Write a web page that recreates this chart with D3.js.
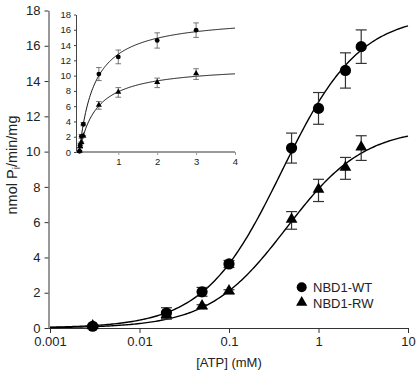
<!DOCTYPE html>
<html><head><meta charset="utf-8">
<script src="https://cdn.jsdelivr.net/npm/d3@7"></script>
<style>body{margin:0;background:#fff}svg{display:block;font-family:"Liberation Sans",Arial,sans-serif}</style>
</head><body>
<svg id="c" width="418" height="374"></svg>
<script>
// ---- data ----
const atp = [0.003, 0.02, 0.05, 0.1, 0.5, 1, 2, 3];
const wtRate = [0.1, 0.85, 2.05, 3.63, 10.2, 12.45, 14.6, 15.95];
const wtErr = [0.08, 0.3, 0.25, 0.2, 0.85, 0.9, 1.0, 0.95];
const rwRate = [0.07, 0.7, 1.2, 2.05, 6.1, 7.8, 9.05, 10.2];
const rwErr = [0.05, 0.2, 0.12, 0.12, 0.5, 0.63, 0.62, 0.7];
const seriesNames = ["NBD1-WT", "NBD1-RW"];
const fitVmax = [17.8, 11.36];
const fitKm = [0.39, 0.44];
const xTicks = [0.001, 0.01, 0.1, 1, 10];
const xTickLabels = ["0.001", "0.01", "0.1", "1", "10"];
const yTicks = [0, 2, 4, 6, 8, 10, 12, 14, 16, 18];
const insetXTicks = [1, 2, 3, 4];
const insetXTickLabels = ["1", "2", "3", "4"];

const svg = d3.select("#c");
const mm = (v, k) => x => v * x / (k + x);
const series = [
  {name: seriesNames[0], y: wtRate, e: wtErr, f: mm(fitVmax[0], fitKm[0]), shape: "circle"},
  {name: seriesNames[1], y: rwRate, e: rwErr, f: mm(fitVmax[1], fitKm[1]), shape: "triangle"}
];

// ---- main chart ----
const x = d3.scaleLog().domain([0.001, 10]).range([50, 408]);
const y = d3.scaleLinear().domain([0, 18]).range([328, 10.5]);
const axisCol = "#333";

const gx = svg.append("g").attr("transform", "translate(0,328)")
  .call(d3.axisBottom(x).tickValues(xTicks).tickFormat((d, i) => xTickLabels[i]).tickSize(5).tickSizeOuter(0).tickPadding(4));
gx.select(".domain").attr("d", "M48.5,0.5H408").attr("stroke", axisCol);
const gy = svg.append("g").attr("transform", "translate(48.5,0)")
  .call(d3.axisLeft(y).tickValues(yTicks).tickSize(4).tickSizeOuter(0).tickPadding(4));
[gx, gy].forEach(g => {
  g.selectAll("text").attr("font-size", 13).attr("fill", "#222").attr("font-family", "Liberation Sans, Arial, sans-serif");
  g.selectAll("line,.domain").attr("stroke", axisCol);
});

svg.append("text").attr("x", 229).attr("y", 367).attr("text-anchor", "middle")
  .attr("font-size", 13).attr("fill", "#222").text("[ATP] (mM)");
const yl = svg.append("text").attr("transform", "translate(17,165) rotate(-90)")
  .attr("text-anchor", "middle").attr("font-size", 14.5).attr("fill", "#222");
yl.append("tspan").text("nmol P");
yl.append("tspan").attr("font-size", 10).attr("dy", 3).text("i");
yl.append("tspan").attr("dy", -3).text("/min/mg");

function drawSeries(g, xs, ys, xvals, opt) {
  series.forEach(s => {
    const line = d3.line().x(d => xs(d[0])).y(d => ys(d[1]));
    g.append("path").attr("d", line(opt.samples.map(v => [v, s.f(v)])))
      .attr("fill", "none").attr("stroke", "#000").attr("stroke-width", opt.lw);
  });
  series.forEach(s => {
    xvals.forEach((v, i) => {
      const cx = xs(v), y0 = ys(s.y[i] - s.e[i]), y1 = ys(s.y[i] + s.e[i]);
      const eb = g.append("g").attr("stroke", opt.ebCol).attr("stroke-width", opt.ebw).attr("fill", "none");
      eb.append("line").attr("x1", cx).attr("x2", cx).attr("y1", y0).attr("y2", y1);
      eb.append("line").attr("x1", cx - opt.cap).attr("x2", cx + opt.cap).attr("y1", y0).attr("y2", y0);
      eb.append("line").attr("x1", cx - opt.cap).attr("x2", cx + opt.cap).attr("y1", y1).attr("y2", y1);
    });
  });
  series.forEach(s => {
    xvals.forEach((v, i) => {
      const cx = xs(v), cy = ys(s.y[i]);
      if (s.shape === "circle") g.append("circle").attr("cx", cx).attr("cy", cy).attr("r", opt.r).attr("fill", "#000");
      else g.append("path").attr("d", d3.symbol(d3.symbolTriangle, opt.tri)()).attr("transform", `translate(${cx},${cy - opt.triOff})`).attr("fill", "#000");
    });
  });
}

const main = svg.append("g");
drawSeries(main, x, y, atp, {
  samples: d3.range(0, 201).map(i => Math.pow(10, -3 + 4 * i / 200)),
  lw: 1.4, ebCol: "#333", ebw: 1.2, cap: 5.5, r: 5.6, tri: 60, triOff: 1
});

// legend
const lg = svg.append("g");
lg.append("circle").attr("cx", 301.7).attr("cy", 287.3).attr("r", 5).attr("fill", "#000");
lg.append("text").attr("x", 313).attr("y", 292).attr("font-size", 13).attr("fill", "#222").text(seriesNames[0]);
lg.append("path").attr("d", d3.symbol(d3.symbolTriangle, 55)()).attr("transform", "translate(301.7,302.5)").attr("fill", "#000");
lg.append("text").attr("x", 313).attr("y", 308).attr("font-size", 13).attr("fill", "#222").text(seriesNames[1]);

// ---- inset ----
const xi = d3.scaleLinear().domain([0, 4]).range([79.4, 235]);
const yi = d3.scaleLinear().domain([0, 18]).range([152, 14.5]);
const ins = svg.append("g");
const giy = ins.append("g").attr("transform", "translate(76,0)")
  .call(d3.axisLeft(yi).tickValues(yTicks).tickSize(2).tickSizeOuter(0).tickPadding(3));
giy.selectAll("line,.domain").attr("stroke", "#444");
giy.selectAll("text").attr("font-size", 9.5).attr("fill", "#222").attr("font-family", "Liberation Sans, Arial, sans-serif");
const gix = ins.append("g").attr("transform", "translate(0,152)")
  .call(d3.axisBottom(xi).tickValues(insetXTicks).tickFormat((d, i) => insetXTickLabels[i]).tickSize(3).tickSizeOuter(0).tickPadding(3));
gix.select(".domain").attr("d", "M76,0H235").attr("stroke", "#999").attr("stroke-width", 2);
gix.selectAll("line").attr("stroke", "#999");
gix.selectAll("text").attr("font-size", 9.5).attr("fill", "#222").attr("font-family", "Liberation Sans, Arial, sans-serif");

drawSeries(ins, xi, yi, atp, {
  samples: d3.range(0, 201).map(i => 4 * i / 200),
  lw: 0.9, ebCol: "#555", ebw: 0.8, cap: 2.8, r: 2.4, tri: 16, triOff: 0.5
});
</script>
</body></html>
